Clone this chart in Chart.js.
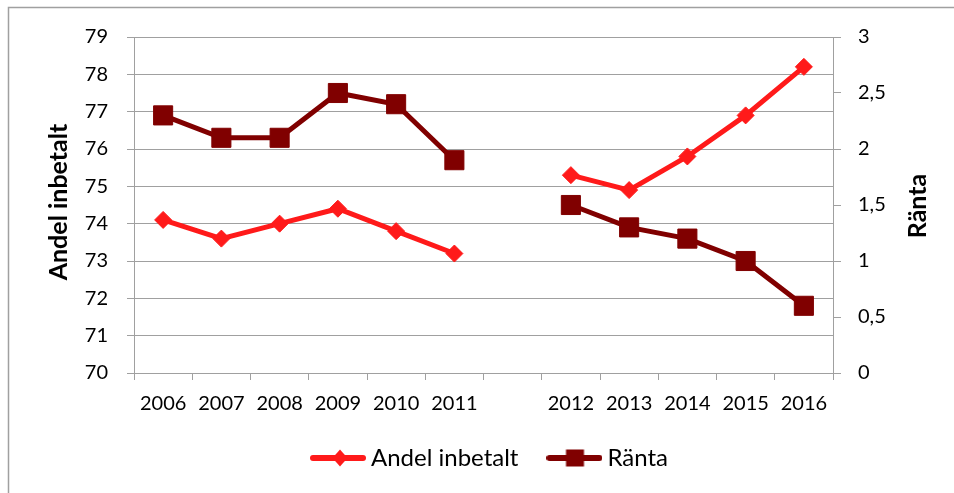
<!DOCTYPE html>
<html>
<head>
<meta charset="utf-8">
<script src="https://cdn.jsdelivr.net/npm/chart.js@4.4.0/dist/chart.umd.min.js"></script>
<style>
  html, body { margin: 0; padding: 0; background: #ffffff; }
  #wrap { width: 954px; height: 493px; position: relative; }
</style>
</head>
<body>
<div id="wrap"><canvas id="c" width="954" height="493"></canvas></div>
<script>
// ---- data ----
const categories = ['2006', '2007', '2008', '2009', '2010', '2011', '', '2012', '2013', '2014', '2015', '2016'];
const andelInbetalt = [74.1, 73.6, 74.0, 74.4, 73.8, 73.2, null, 75.3, 74.9, 75.8, 76.9, 78.2];
const ranta = [2.3, 2.1, 2.1, 2.5, 2.4, 1.9, null, 1.5, 1.3, 1.2, 1.0, 0.6];
const leftTickLabels = ['70', '71', '72', '73', '74', '75', '76', '77', '78', '79'];
const rightTickLabels = ['0', '0,5', '1', '1,5', '2', '2,5', '3'];
const seriesNames = ['Andel inbetalt', 'Ränta'];
const axisTitles = ['Andel inbetalt', 'Ränta'];

const RED = '#ff1a1a';
const MAROON = '#800000';
const GRID = '#a0a0a0';
const FONT = 'Lato, "Open Sans", "Liberation Sans", sans-serif';

Chart.defaults.font.family = FONT;
Chart.defaults.color = '#000000';

function legendImage(kind, color, totalW, lineStart) {
  const c = document.createElement('canvas');
  c.width = totalW; c.height = 22;
  const g = c.getContext('2d');
  g.strokeStyle = color; g.fillStyle = color;
  g.lineWidth = 6; g.lineCap = 'round';
  g.beginPath(); g.moveTo(lineStart + 3, 11); g.lineTo(lineStart + 53, 11); g.stroke();
  if (kind === 'diamond') {
    const cx = lineStart + 30;
    g.beginPath();
    g.moveTo(cx, 2.5); g.lineTo(cx + 7.5, 11); g.lineTo(cx, 19.5); g.lineTo(cx - 7.5, 11);
    g.closePath(); g.fill();
  } else {
    const cx = lineStart + 28.5;
    g.fillRect(cx - 9, 2.5, 18, 17);
  }
  return c;
}
const legendImgs = [legendImage('diamond', RED, 56, 0), legendImage('square', MAROON, 56, 0)];

const framePlugin = {
  id: 'frame',
  beforeDraw(chart) {
    const ctx = chart.ctx;
    ctx.save();
    ctx.fillStyle = '#ffffff';
    ctx.fillRect(0, 0, chart.width, chart.height);
    ctx.strokeStyle = '#a0a0a0';
    ctx.lineWidth = 1.5;
    ctx.beginPath();
    ctx.moveTo(8.5, chart.height);
    ctx.lineTo(8.5, 7.5);
    ctx.lineTo(chart.width, 7.5);
    ctx.stroke();
    ctx.restore();
  }
};

const titlePlugin = {
  id: 'axisTitles',
  afterDraw(chart) {
    const ctx = chart.ctx;
    const a = chart.chartArea;
    const cy = (a.top + a.bottom) / 2;
    ctx.save();
    ctx.fillStyle = '#000000';
    ctx.font = 'bold 25px ' + FONT;
    ctx.textAlign = 'center';
    ctx.textBaseline = 'middle';
    ctx.translate(59, cy - 3);
    ctx.rotate(-Math.PI / 2);
    ctx.fillText(axisTitles[0], 0, 0);
    ctx.restore();
    ctx.save();
    ctx.fillStyle = '#000000';
    ctx.font = 'bold 25px ' + FONT;
    ctx.textAlign = 'center';
    ctx.textBaseline = 'middle';
    ctx.translate(918, cy + 1);
    ctx.rotate(-Math.PI / 2);
    ctx.fillText(axisTitles[1], 0, 0);
    ctx.restore();
  }
};

new Chart(document.getElementById('c'), {
  type: 'line',
  data: {
    labels: categories,
    datasets: [
      {
        label: seriesNames[0],
        data: andelInbetalt,
        yAxisID: 'y',
        borderColor: RED,
        backgroundColor: RED,
        borderWidth: 5,
        pointStyle: 'rectRot',
        pointRadius: 8.5,
        pointBorderWidth: 1,
        pointBackgroundColor: RED,
        pointBorderColor: RED,
        tension: 0,
        spanGaps: false
      },
      {
        label: seriesNames[1],
        data: ranta,
        yAxisID: 'y1',
        borderColor: MAROON,
        backgroundColor: MAROON,
        borderWidth: 5,
        pointStyle: 'rect',
        pointRadius: 13.5,
        pointBorderWidth: 1,
        pointBackgroundColor: MAROON,
        pointBorderColor: MAROON,
        tension: 0,
        spanGaps: false
      }
    ]
  },
  options: {
    responsive: false,
    animation: false,
    events: [],
    layout: { padding: { top: 37, left: 31, right: 0, bottom: 13 } },
    plugins: {
      tooltip: { enabled: false },
      title: { display: false },
      legend: {
        position: 'bottom',
        labels: {
          usePointStyle: true,
          pointStyleWidth: 42,
          padding: 35,
          font: { size: 24 },
          color: '#000000',
          generateLabels(chart) {
            const items = Chart.defaults.plugins.legend.labels.generateLabels(chart);
            items.forEach((it, i) => { it.pointStyle = legendImgs[i]; });
            return items;
          }
        }
      }
    },
    scales: {
      x: {
        type: 'category',
        offset: true,
        grid: { display: true, drawOnChartArea: false, drawTicks: true, tickLength: 7, color: GRID, offset: true },
        border: { display: true, color: GRID, width: 1 },
        ticks: { font: { size: 20 }, padding: 12, maxRotation: 0, autoSkip: false, color: '#000000' },
        afterFit(s) { s.height = 38; }
      },
      y: {
        position: 'left',
        min: 70, max: 79,
        ticks: {
          stepSize: 1, font: { size: 20 }, padding: 19, color: '#000000',
          callback(v) { return leftTickLabels[Math.round(v - 70)]; }
        },
        grid: { color: GRID, tickLength: 7, lineWidth: 1 },
        border: { display: true, color: GRID, width: 1 },
        afterFit(s) { s.width = 103; }
      },
      y1: {
        position: 'right',
        min: 0, max: 3,
        ticks: {
          stepSize: 0.5, font: { size: 20 }, padding: 17, color: '#000000',
          callback(v) { return rightTickLabels[Math.round(v * 2)]; }
        },
        grid: { drawOnChartArea: false, color: GRID, tickLength: 8 },
        border: { display: true, color: GRID, width: 1 },
        afterFit(s) { s.width = 121; }
      }
    }
  },
  plugins: [framePlugin, titlePlugin]
});
</script>
</body>
</html>
